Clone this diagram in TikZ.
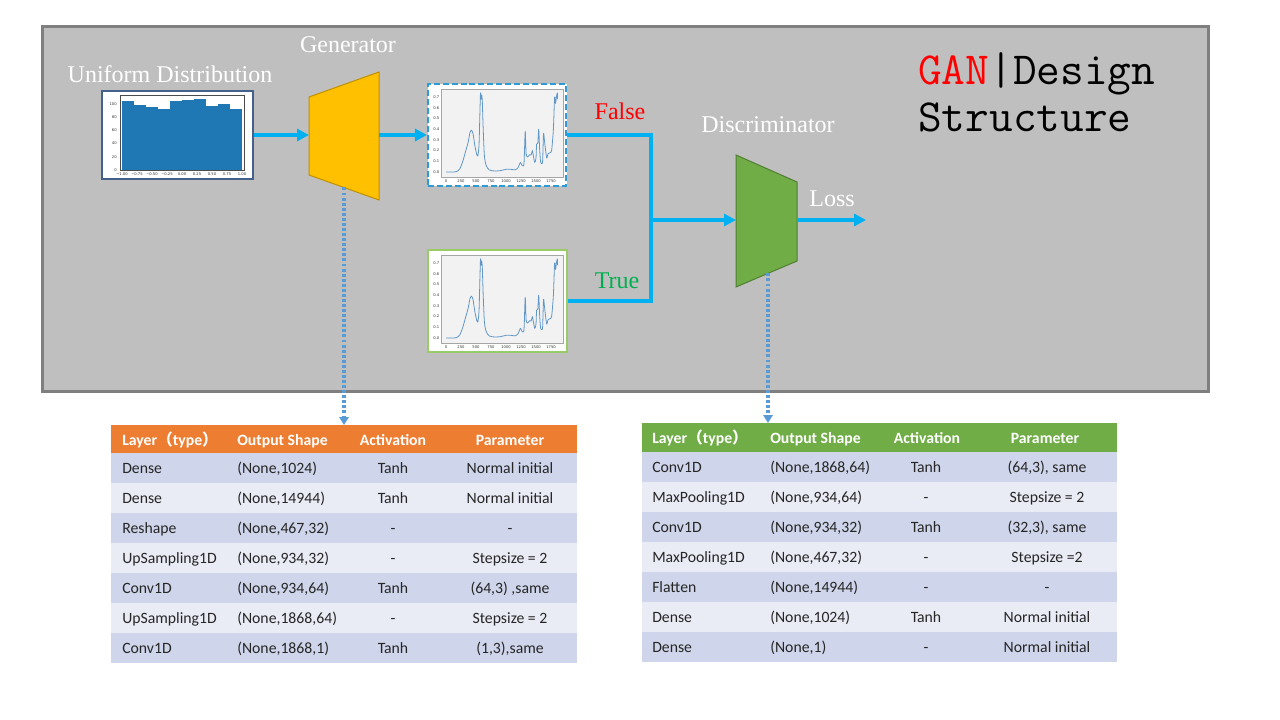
\documentclass[tikz,border=0pt]{standalone}
\usepackage{fontspec}
\setmainfont{Liberation Serif}
\setsansfont{Carlito}
\newfontfamily\titlefont{Latin Modern Mono}
\newfontfamily\cjk{Noto Sans CJK SC}
\newfontfamily\tickfont{DejaVu Sans}
\usetikzlibrary{arrows.meta, positioning, calc}
\definecolor{panelgray}{RGB}{191,191,191}
\definecolor{paneledge}{RGB}{127,127,127}
\definecolor{flowblue}{RGB}{0,176,240}
\definecolor{probeblue}{RGB}{91,155,213}
\definecolor{genyellow}{RGB}{255,192,0}
\definecolor{genedge}{RGB}{191,144,0}
\definecolor{disgreen}{RGB}{112,173,71}
\definecolor{disedge}{RGB}{80,126,50}
\definecolor{histedge}{RGB}{68,97,139}
\definecolor{histbar}{RGB}{31,119,180}
\definecolor{fakeedge}{RGB}{46,155,214}
\definecolor{realedge}{RGB}{153,204,102}
\definecolor{falsered}{RGB}{255,0,0}
\definecolor{truegreen}{RGB}{0,176,80}
\definecolor{taborange}{RGB}{237,125,49}
\definecolor{tabgreen}{RGB}{112,173,71}
\definecolor{rowdark}{RGB}{207,213,234}
\definecolor{rowlight}{RGB}{233,235,245}
\definecolor{axfill}{RGB}{242,242,242}
\definecolor{curveblue}{RGB}{96,150,200}
\tikzset{
    flow/.style={draw=flowblue, line width=3pt, -{Triangle[length=9pt,width=9pt]}},
    wire/.style={draw=flowblue, line width=3pt},
    probe/.style={draw=probeblue, line width=2.4pt, dash pattern=on 2.2pt off 1.6pt,
                  -{Triangle[length=6pt,width=7pt]}},
    lbl/.style={text=white, font=\fontsize{18}{20}\selectfont, anchor=base, inner sep=0pt},
    titletext/.style={font=\titlefont\fontsize{34.5}{36}\selectfont, anchor=base west, inner sep=0pt},
    cell/.style={font=\sffamily\fontsize{11.8}{13}\selectfont, text=black!85, anchor=base west, inner sep=0pt},
    ccell/.style={cell, anchor=base},
    hcell/.style={cell, font=\sffamily\bfseries\fontsize{11.8}{13}\selectfont, text=white},
    hccell/.style={hcell, anchor=base},
    tick/.style={font=\tickfont\fontsize{2.8}{3}\selectfont, text=black!80, inner sep=0pt},
    spectrum/.pic={
        \fill[white] (0,0) rectangle (139,102);
        \filldraw[fill=axfill, draw=black!35, line width=0.3pt] (13,5) rectangle (135,93);
        \foreach \v in {0,250,...,1750}
            \node[tick, anchor=north] (xt-\v) at ({18+0.06*\v},95) {\v};
        \foreach \k in {0,...,7}
            \node[tick, anchor=east] (yt-\k) at (11.5,{88-10.7*\k}) {0.\k};
        \begin{scope}[shift={(18,88)}, xscale=0.06, yscale=-107]
            \draw[curveblue, line width=0.6pt, line join=round]
                plot[smooth, tension=0.4] coordinates {
                (0,0.0) (120,0.0) (180,0.005) (230,0.03) (280,0.1) (330,0.2)
                (370,0.28) (400,0.37) (425,0.39) (450,0.36) (480,0.25) (510,0.17)
                (530,0.15) (550,0.25) (565,0.55) (575,0.74) (585,0.68) (595,0.72)
                (605,0.66) (620,0.4) (640,0.15) (670,0.06) (720,0.02) (800,0.01)
                (900,0.012) (1000,0.025) (1080,0.025) (1150,0.02) (1200,0.04)
                (1240,0.09) (1270,0.06) (1300,0.08) (1320,0.38) (1335,0.17)
                (1360,0.14) (1390,0.16) (1420,0.16) (1440,0.2) (1460,0.14)
                (1480,0.09) (1500,0.13) (1510,0.26) (1530,0.27) (1545,0.4)
                (1560,0.22) (1575,0.1) (1590,0.08) (1610,0.1) (1625,0.36)
                (1640,0.3) (1660,0.2) (1680,0.13) (1700,0.17) (1730,0.18)
                (1760,0.2) (1790,0.4) (1810,0.7) (1825,0.64) (1840,0.7)
                (1855,0.74) (1860,0.68)};
        \end{scope}
    },
}

\begin{document}
\begin{tikzpicture}[x=0.75pt, y=-0.75pt]
    \useasboundingbox (0,0) rectangle (1280,720);
    \fill[white] (0,0) rectangle (1280,720);

    % gray panel
    \draw[fill=panelgray, draw=paneledge, line width=2.25pt] (42,27) rectangle (1208,391);

    % uniform distribution histogram
    \node[lbl] (unilbl) at (170,83) {Uniform Distribution};
    \fill[white] (102,91) rectangle (253,179);
    \foreach \h [count=\b from 0] in {105,99,96,93,104,106,107,97,100,93}
        \fill[histbar] ({122+12*\b},170) rectangle ({134+12*\b},{170-0.66*\h});
    \draw[black!70, line width=0.3pt] (120,95) rectangle (244,170);
    \foreach \v in {0,20,...,100}
        \node[tick, anchor=east] (hy-\v) at (117,{170-0.66*\v}) {\v};
    \foreach \t [count=\k from 0] in {−1.00,−0.75,−0.50,−0.25,0.00,0.25,0.50,0.75,1.00}
        \node[tick, anchor=north] (hx-\k) at ({122+15*\k},172) {\t};
    \node[draw=histedge, line width=1.6pt, minimum width=151*0.75pt, minimum height=88*0.75pt,
          inner sep=0pt] (hist) at (177.5,135) {};

    % generator
    \node[lbl] (genlbl) at (348,53) {Generator};
    \draw[fill=genyellow, draw=genedge, line width=0.75pt]
        (309,97) -- (379,72) -- (379,200) -- (309,175) -- cycle;
    \coordinate (gen-in) at (309,135);
    \coordinate (gen-out) at (379,135);
    \coordinate (gen-bot) at (344,187.5);

    % generated and real samples
    \pic at (428,84) {spectrum};
    \node[draw=fakeedge, line width=1.6pt, dash pattern=on 4.5pt off 2.2pt,
          minimum width=138*0.75pt, minimum height=102*0.75pt, inner sep=0pt] (fake) at (497,135) {};
    \pic at (428,250) {spectrum};
    \node[draw=realedge, line width=1.6pt,
          minimum width=139*0.75pt, minimum height=102*0.75pt, inner sep=0pt] (real) at (497.5,301) {};
    \node[lbl, text=falsered] (falselbl) at (620,120) {False};
    \node[lbl, text=truegreen] (truelbl) at (617,288) {True};

    % discriminator
    \node[lbl] (dislbl) at (768,133) {Discriminator};
    \draw[fill=disgreen, draw=disedge, line width=0.75pt]
        (736,155) -- (797,182) -- (797,261) -- (736,287) -- cycle;
    \coordinate (dis-in) at (736,220);
    \coordinate (dis-out) at (797,220);
    \coordinate (dis-bot) at (768,273.4);
    \coordinate (join) at (651,220);
    \coordinate (loss-end) at (866,220);
    \node[lbl] (losslbl) at (832,207) {Loss};

    \draw[flow] (hist.east) -- (gen-in);
    \draw[flow] (gen-out) -- (fake.west);
    \draw[wire] (fake.east) -| (join);
    \draw[wire] (real.east) -| (join);
    \draw[flow] (join) -- (dis-in);
    \draw[flow] (dis-out) -- (loss-end);

    % title
    \node[titletext] (title1) at (918,85) {\textcolor{falsered}{GAN}|Design};
    \node[titletext] (title2) at (918,132) {Structure};

    % generator table
    \fill[taborange] (111,425) rectangle (577,453);
    \coordinate (gtab) at (344,425);
    \node[hcell] (gh-1) at (122,445) {Layer{\cjk（}type{\cjk）}};
    \node[hcell] (gh-2) at (237,445) {Output Shape};
    \node[hccell] (gh-3) at (393,445) {Activation};
    \node[hccell] (gh-4) at (510,445) {Parameter};
    \foreach \lay/\shp/\act/\prm [count=\i] in {
        Dense/{(None,1024)}/Tanh/Normal initial,
        Dense/{(None,14944)}/Tanh/Normal initial,
        Reshape/{(None,467,32)}/-/-,
        UpSampling1D/{(None,934,32)}/-/Stepsize = 2,
        Conv1D/{(None,934,64)}/Tanh/{(64,3) ,same},
        UpSampling1D/{(None,1868,64)}/-/Stepsize = 2,
        Conv1D/{(None,1868,1)}/Tanh/{(1,3),same}} {
        \pgfmathparse{mod(\i,2)==1 ? "rowdark" : "rowlight"}
        \edef\rowcol{\pgfmathresult}
        \fill[\rowcol] (111,{453+30*(\i-1)}) rectangle (577,{453+30*\i});
        \node[cell] (g-\i-1) at (122,{443+30*\i}) {\lay};
        \node[cell] (g-\i-2) at (237,{443+30*\i}) {\shp};
        \node[ccell] (g-\i-3) at (393,{443+30*\i}) {\act};
        \node[ccell] (g-\i-4) at (510,{443+30*\i}) {\prm};
    }

    % discriminator table
    \fill[tabgreen] (642,423) rectangle (1117,452);
    \coordinate (dtab) at (768,423);
    \node[hcell] (dh-1) at (652,443) {Layer{\cjk（}type{\cjk）}};
    \node[hcell] (dh-2) at (770,443) {Output Shape};
    \node[hccell] (dh-3) at (927,443) {Activation};
    \node[hccell] (dh-4) at (1045,443) {Parameter};
    \foreach \lay/\shp/\act/\prm [count=\i] in {
        Conv1D/{(None,1868,64)}/Tanh/{(64,3), same},
        MaxPooling1D/{(None,934,64)}/-/Stepsize = 2,
        Conv1D/{(None,934,32)}/Tanh/{(32,3), same},
        MaxPooling1D/{(None,467,32)}/-/Stepsize =2,
        Flatten/{(None,14944)}/-/-,
        Dense/{(None,1024)}/Tanh/Normal initial,
        Dense/{(None,1)}/-/Normal initial} {
        \pgfmathparse{mod(\i,2)==1 ? "rowdark" : "rowlight"}
        \edef\rowcol{\pgfmathresult}
        \fill[\rowcol] (642,{452+30*(\i-1)}) rectangle (1117,{452+30*\i});
        \node[cell] (d-\i-1) at (652,{442+30*\i}) {\lay};
        \node[cell] (d-\i-2) at (770,{442+30*\i}) {\shp};
        \node[ccell] (d-\i-3) at (926,{442+30*\i}) {\act};
        \node[ccell] (d-\i-4) at (1047,{442+30*\i}) {\prm};
    }

    % probes to the layer tables
    \draw[probe] (gen-bot) -- (gtab);
    \draw[probe] (dis-bot) -- (dtab);
\end{tikzpicture}
\end{document}
